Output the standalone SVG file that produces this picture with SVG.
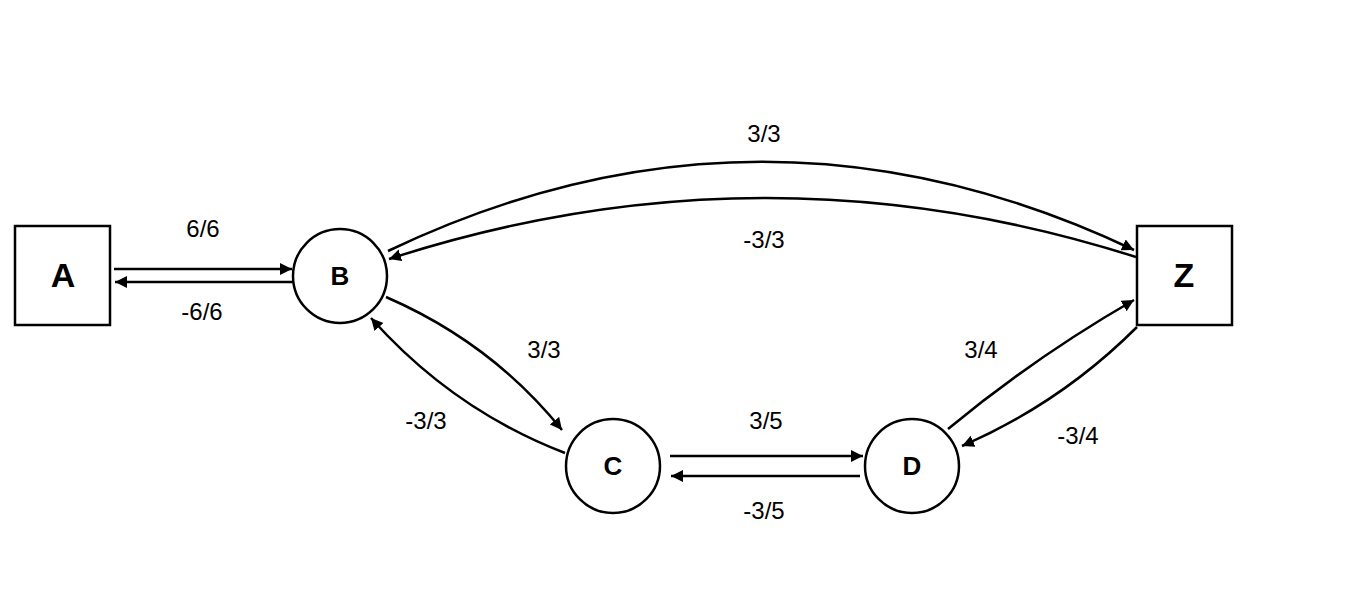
<svg xmlns="http://www.w3.org/2000/svg" width="1360" height="606" viewBox="0 0 1360 606">
<style>
.node{fill:#fff;stroke:#000;stroke-width:2.5}
.e{fill:none;stroke:#000;stroke-width:2.5;marker-end:url(#ah)}
.lbl{font-family:"Liberation Sans",Arial,sans-serif;font-size:24px;fill:#000;text-anchor:middle}
.big{font-family:"Liberation Sans",Arial,sans-serif;font-weight:bold;font-size:34px;fill:#000;text-anchor:middle}
.mid{font-family:"Liberation Sans",Arial,sans-serif;font-weight:bold;font-size:26px;fill:#000;text-anchor:middle}
</style>
<defs>
<marker id="ah" markerUnits="userSpaceOnUse" markerWidth="16" markerHeight="14" refX="12" refY="6" orient="auto">
<path d="M0,0 L12,6 L0,12 Z" fill="#000"/>
</marker>
</defs>
<rect width="1360" height="606" fill="#fff"/>
<g id="connectors">
<path class="e" d="M114,269 L292,269"/>
<path class="e" d="M293,282 L115,282"/>
<path class="e" d="M670,456 L863,456"/>
<path class="e" d="M860,476 L671,476"/>
<path class="e" d="M386,297 Q492,343 562,430"/>
<path class="e" d="M565,453 Q453,410 371,318"/>
<path class="e" d="M388,251 Q761,73 1134,250"/>
<path class="e" d="M1136,257 Q763,138 389,259"/>
<path class="e" d="M948,429 Q1035,357 1134,300"/>
<path class="e" d="M1137,327 Q1061,403 962,446"/>
</g>
<g id="labels">
<text class="lbl" x="203" y="237">6/6</text>
<text class="lbl" x="202" y="320">-6/6</text>
<text class="lbl" x="764" y="142">3/3</text>
<text class="lbl" x="764" y="248">-3/3</text>
<text class="lbl" x="544" y="358">3/3</text>
<text class="lbl" x="426" y="429">-3/3</text>
<text class="lbl" x="766" y="429">3/5</text>
<text class="lbl" x="764" y="519">-3/5</text>
<text class="lbl" x="981" y="358">3/4</text>
<text class="lbl" x="1078" y="444">-3/4</text>
</g>
<g id="A"><rect class="node" x="15" y="226" width="95" height="99"/><text class="big" x="63" y="287">A</text></g>
<g id="B"><circle class="node" cx="340" cy="276" r="47"/><text class="mid" x="340" y="285">B</text></g>
<g id="C"><circle class="node" cx="613" cy="466" r="47"/><text class="mid" x="613" y="475">C</text></g>
<g id="D"><circle class="node" cx="912" cy="466" r="47"/><text class="mid" x="912" y="475">D</text></g>
<g id="Z"><rect class="node" x="1137" y="226" width="95" height="99"/><text class="big" x="1184" y="287">Z</text></g>
</svg>
